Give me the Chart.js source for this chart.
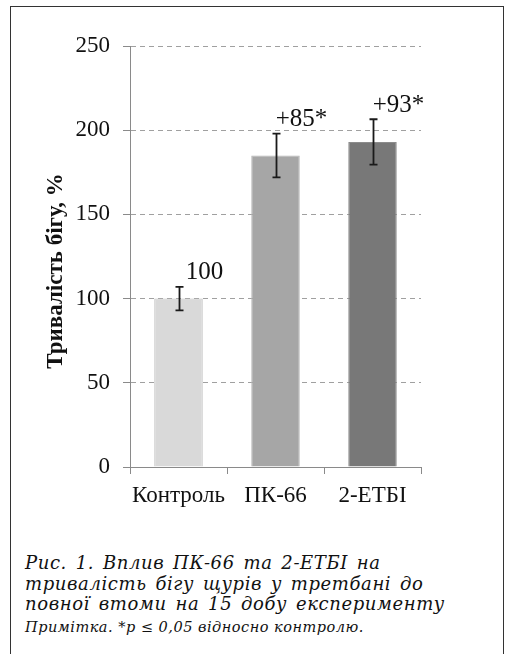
<!DOCTYPE html>
<html>
<head>
<meta charset="utf-8">
<script src="https://cdn.jsdelivr.net/npm/chart.js@4.4.1/dist/chart.umd.min.js"></script>
<style>
  html, body { margin: 0; padding: 0; background: #fff; }
  body { width: 506px; height: 654px; position: relative; overflow: hidden; }
  #frame { position: absolute; left: 10px; top: 6px; width: 494px; height: 700px; border: 1px solid #333; box-sizing: border-box; }
  #wrap { position: absolute; left: 0; top: 0; width: 506px; height: 520px; }
  #caption { position: absolute; left: 25px; top: 553px; font-family: "DejaVu Serif", serif; font-style: italic; color: #111; }
  #caption .main { font-size: 18px; line-height: 20.5px; letter-spacing: 0.6px; word-spacing: 2.5px; white-space: nowrap; }
  #caption .note { font-size: 14.5px; line-height: 20px; margin-top: 2px; letter-spacing: 0.5px; white-space: nowrap; }
</style>
</head>
<body>
<div id="frame"></div>
<div id="wrap"><canvas id="c"></canvas></div>
<div id="caption">
  <div class="main">Рис. 1. Вплив ПК-66 та 2-ЕТБІ на</div>
  <div class="main">тривалість бігу щурів у третбані до</div>
  <div class="main">повної втоми на 15 добу експерименту</div>
  <div class="note">Примітка. *p ≤ 0,05 відносно контролю.</div>
</div>
<script>
const categories = ["Контроль", "ПК-66", "2-ЕТБІ"];
const values = [100, 185, 193];
const errors = [7, 13, 13.5];
const valueLabels = ["100", "+85*", "+93*"];
const yTicks = [0, 50, 100, 150, 200, 250];
const barColors = ["#d9d9d9", "#a6a6a6", "#787878"];
const barBorders = ["#c0c0c0", "#b4b4b4", "#8c8c8c"];
const yTitle = "Тривалість бігу, %";

const SERIF = "'Liberation Serif', 'Times New Roman', serif";

const errorBarPlugin = {
  id: "errorBars",
  afterDatasetsDraw(chart) {
    const ctx = chart.ctx;
    const meta = chart.getDatasetMeta(0);
    const ys = chart.scales.y;
    ctx.save();
    ctx.strokeStyle = "#1a1a1a";
    ctx.lineWidth = 1.8;
    meta.data.forEach((bar, i) => {
      const x = Math.round(bar.x) + 0.5;
      const yTop = ys.getPixelForValue(values[i] + errors[i]);
      const yBot = ys.getPixelForValue(values[i] - errors[i]);
      ctx.beginPath();
      ctx.moveTo(x, yTop); ctx.lineTo(x, yBot);
      ctx.moveTo(x - 4, yTop); ctx.lineTo(x + 4, yTop);
      ctx.moveTo(x - 4, yBot); ctx.lineTo(x + 4, yBot);
      ctx.stroke();
      ctx.fillStyle = "#111";
      ctx.font = "25px " + SERIF;
      ctx.textAlign = "center";
      ctx.textBaseline = "alphabetic";
      ctx.fillText(valueLabels[i], bar.x + 26, yTop - 7.5);
    });
    ctx.translate(62, 271);
    ctx.rotate(-Math.PI / 2);
    ctx.font = "bold 23px " + SERIF;
    ctx.fillStyle = "#111";
    ctx.textAlign = "center";
    ctx.textBaseline = "alphabetic";
    ctx.fillText(yTitle, 0, 0);
    ctx.restore();
  }
};

new Chart(document.getElementById("c"), {
  type: "bar",
  data: {
    labels: categories,
    datasets: [{
      data: values,
      backgroundColor: barColors,
      borderColor: barBorders,
      borderWidth: 1,
      barPercentage: 0.5,
      categoryPercentage: 1.0
    }]
  },
  options: {
    responsive: true,
    maintainAspectRatio: false,
    animation: false,
    devicePixelRatio: 1,
    layout: { padding: { top: 46, right: 85, left: 0, bottom: 0 } },
    plugins: { legend: { display: false }, tooltip: { enabled: false } },
    scales: {
      x: {
        grid: { drawOnChartArea: false, drawTicks: true, tickLength: 7, color: "#8a8a8a", offset: true },
        border: { display: true, color: "#8a8a8a", width: 1 },
        ticks: { color: "#111", font: { family: SERIF, size: 23 }, padding: 8, maxRotation: 0 },
        afterFit(scale) { scale.height = 53; }
      },
      y: {
        min: yTicks[0],
        max: yTicks[yTicks.length - 1],
        afterBuildTicks(scale) { scale.ticks = yTicks.map(v => ({ value: v })); },
        grid: { color: "#a0a0a0", tickLength: 7, tickColor: "#8a8a8a", drawTicks: true, tickBorderDash: [] },
        border: { display: true, color: "#8a8a8a", width: 1, dash: [5, 4] },
        ticks: { color: "#111", font: { family: SERIF, size: 23 }, padding: 13 },
        afterFit(scale) { scale.width = 130; }
      }
    }
  },
  plugins: [errorBarPlugin]
});
</script>
</body>
</html>
